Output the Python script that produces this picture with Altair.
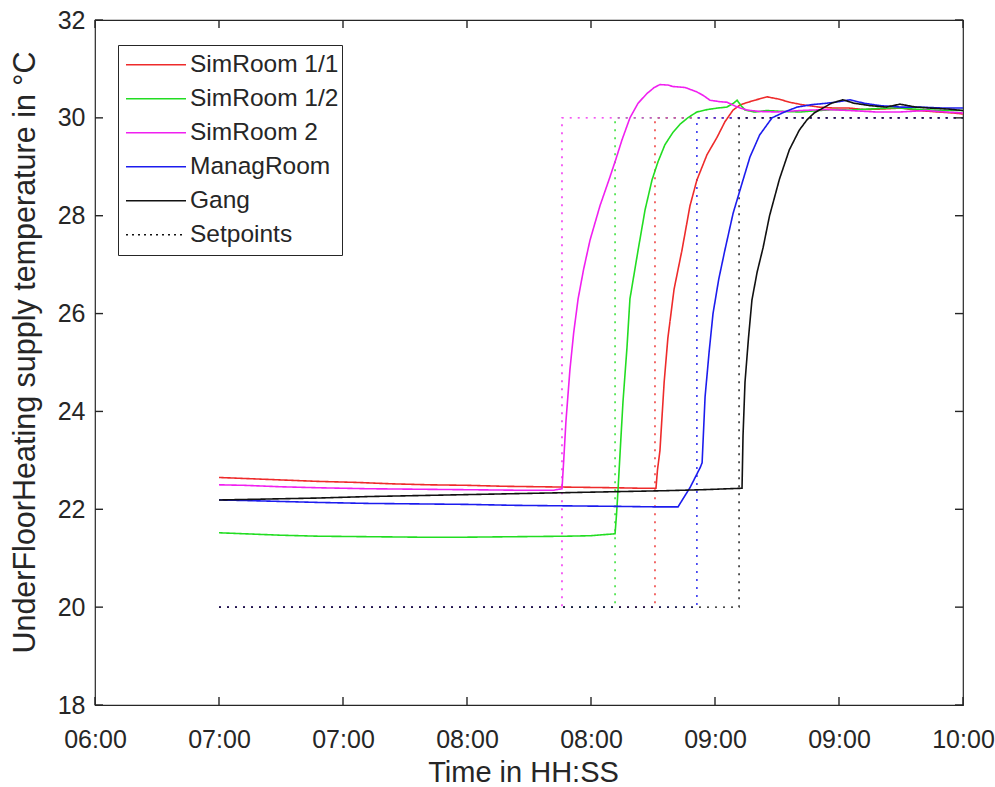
import json
import altair as alt
import pandas as pd

# ---------------- data ----------------
SERIES = ["SimRoom 1/1", "SimRoom 1/2", "SimRoom 2", "ManagRoom", "Gang"]
LEGEND_NAMES = SERIES + ["Setpoints"]
COLORS = ["#ee2b2b", "#22dd22", "#f020f0", "#1c1cee", "#111111", "#111111"]

sr11_t = [6.5, 6.6, 6.75, 6.9, 7.05, 7.2, 7.35, 7.5, 7.65, 7.8, 7.95, 8.1, 8.2, 8.262,
          8.268, 8.278, 8.295, 8.31, 8.335, 8.367, 8.399, 8.427, 8.468, 8.508, 8.54, 8.573,
          8.6, 8.621, 8.66, 8.71, 8.76, 8.8, 8.85, 8.92, 8.98, 9.04, 9.1, 9.17, 9.25, 9.32,
          9.4, 9.46, 9.5]
sr11_v = [22.65, 22.63, 22.6, 22.57, 22.55, 22.52, 22.5, 22.49, 22.47, 22.46, 22.45, 22.44, 22.43, 22.43,
          22.8, 23.2, 24.6, 25.5, 26.5, 27.3, 28.2, 28.73, 29.25, 29.6, 29.92, 30.16,
          30.26, 30.3, 30.36, 30.43, 30.38, 30.32, 30.27, 30.22, 30.2, 30.2, 30.17, 30.18, 30.2, 30.15,
          30.12, 30.1, 30.08]

sr12_t = [6.5, 6.6, 6.75, 6.9, 7.1, 7.3, 7.5, 7.7, 7.9, 8.0, 8.097, 8.103, 8.109, 8.12,
          8.129, 8.145, 8.157, 8.19, 8.218, 8.246, 8.27, 8.298, 8.33, 8.359, 8.39, 8.427,
          8.47, 8.51, 8.548, 8.575, 8.589, 8.605, 8.621, 8.66, 8.71, 8.78, 8.843, 8.92,
          8.98, 9.044, 9.12, 9.2, 9.25, 9.33, 9.42, 9.5]
sr12_v = [21.52, 21.5, 21.47, 21.45, 21.44, 21.43, 21.43, 21.44, 21.45, 21.46, 21.5, 21.9, 22.4, 23.4,
          24.2, 25.3, 26.3, 27.3, 28.12, 28.73, 29.1, 29.45, 29.7, 29.87, 30.0, 30.12,
          30.17, 30.2, 30.22, 30.3, 30.36, 30.25, 30.16, 30.12, 30.15, 30.13, 30.12, 30.15,
          30.17, 30.16, 30.18, 30.2, 30.2, 30.17, 30.15, 30.15]

sr2_t = [6.5, 6.6, 6.75, 6.9, 7.1, 7.3, 7.5, 7.7, 7.85, 7.883, 7.89, 7.899, 7.915, 7.93,
         7.948, 7.97, 7.996, 8.036, 8.077, 8.1, 8.125, 8.157, 8.19, 8.226, 8.255, 8.278,
         8.31, 8.331, 8.38, 8.427, 8.455, 8.48, 8.52, 8.548, 8.59, 8.629, 8.68, 8.75,
         8.843, 8.95, 9.044, 9.15, 9.246, 9.35, 9.43, 9.5]
sr2_v = [22.5, 22.49, 22.46, 22.44, 22.42, 22.41, 22.4, 22.39, 22.39, 22.42, 23.0, 23.8, 24.85, 25.6,
         26.3, 26.9, 27.5, 28.2, 28.8, 29.15, 29.55, 30.0, 30.3, 30.5, 30.62, 30.68,
         30.67, 30.64, 30.62, 30.53, 30.45, 30.36, 30.33, 30.32, 30.22, 30.16, 30.13, 30.12,
         30.15, 30.17, 30.15, 30.12, 30.12, 30.15, 30.12, 30.1]

mr_t = [6.5, 6.6, 6.75, 6.9, 7.1, 7.3, 7.5, 7.7, 7.9, 8.1, 8.25, 8.351, 8.4, 8.44,
        8.448, 8.46, 8.476, 8.492, 8.515, 8.54, 8.573, 8.613, 8.641, 8.68, 8.73, 8.78,
        8.831, 8.89, 8.952, 9.0, 9.044, 9.1, 9.165, 9.25, 9.327, 9.42, 9.5]
mr_v = [22.19, 22.18, 22.16, 22.14, 22.12, 22.11, 22.1, 22.08, 22.07, 22.06, 22.05, 22.05, 22.45, 22.85,
        22.95, 24.3, 25.2, 26.0, 26.7, 27.3, 28.05, 28.73, 29.2, 29.65, 30.0, 30.12,
        30.22, 30.27, 30.3, 30.33, 30.37, 30.3, 30.25, 30.22, 30.22, 30.2, 30.2]

gang_t = [6.5, 6.7, 6.9, 7.1, 7.3, 7.5, 7.7, 7.9, 8.1, 8.3, 8.45, 8.609, 8.613, 8.621,
          8.635, 8.649, 8.67, 8.694, 8.72, 8.76, 8.8, 8.84, 8.871, 8.9, 8.935,
          8.97, 9.016, 9.06, 9.125, 9.19, 9.246, 9.31, 9.367, 9.44, 9.5]
gang_v = [22.19, 22.21, 22.23, 22.26, 22.28, 22.3, 22.32, 22.34, 22.36, 22.38, 22.4, 22.43, 23.5, 24.6,
          25.5, 26.28, 26.85, 27.35, 28.0, 28.75, 29.35, 29.75, 29.96, 30.1, 30.2,
          30.3, 30.37, 30.3, 30.25, 30.22, 30.28, 30.22, 30.2, 30.18, 30.15]

STEP_TIMES = [8.258, 8.097, 7.883, 8.427, 8.597]
SP_LOW = 20
SP_HIGH = 30
T_START = 6.5
T_END = 9.5

X_DOMAIN = [6.0, 9.5]
Y_DOMAIN = [18, 32]
X_TICKS = [6.0, 6.5, 7.0, 7.5, 8.0, 8.5, 9.0, 9.5]
X_LABELS = ["06:00", "07:00", "07:00", "08:00", "08:00", "09:00", "09:00", "10:00"]
Y_TICKS = [18, 20, 22, 24, 26, 28, 30, 32]

# ---------------- layout constants ----------------
W, H = 868, 685
TICK_LEN = 8  # pixels, inward ticks
TX = (X_DOMAIN[1] - X_DOMAIN[0]) * TICK_LEN / W   # tick length in x data units
TY = (Y_DOMAIN[1] - Y_DOMAIN[0]) * TICK_LEN / H   # tick length in y data units

# ---------------- tables ----------------
rows = []
for name, ts, vs in zip(SERIES, [sr11_t, sr12_t, sr2_t, mr_t, gang_t],
                        [sr11_v, sr12_v, sr2_v, mr_v, gang_v]):
    for k, (t, v) in enumerate(zip(ts, vs)):
        rows.append({"series": name, "t": t, "v": v, "k": k})
df = pd.DataFrame(rows)

sp_rows = []
for name, st in zip(SERIES, STEP_TIMES):
    pts = [(T_START, SP_LOW), (st, SP_LOW), (st, SP_HIGH), (T_END, SP_HIGH)]
    for k, (t, v) in enumerate(pts):
        sp_rows.append({"series": name, "t": t, "v": v, "k": k})
sp_df = pd.DataFrame(sp_rows)

tick_rows = []
for t in X_TICKS:
    tick_rows.append({"x1": t, "x2": t, "y1": Y_DOMAIN[0], "y2": Y_DOMAIN[0] + TY})
    tick_rows.append({"x1": t, "x2": t, "y1": Y_DOMAIN[1], "y2": Y_DOMAIN[1] - TY})
for t in Y_TICKS:
    tick_rows.append({"x1": X_DOMAIN[0], "x2": X_DOMAIN[0] + TX, "y1": t, "y2": t})
    tick_rows.append({"x1": X_DOMAIN[1], "x2": X_DOMAIN[1] - TX, "y1": t, "y2": t})
ticks_df = pd.DataFrame(tick_rows)

# ---------------- encodings ----------------
TXT = "#262626"
FONT = "Liberation Sans"
X_TITLE = "Time in HH:SS"
Y_TITLE = "UnderFloorHeating supply temperature in °C"

x_scale = alt.Scale(domain=X_DOMAIN, nice=False, zero=False)
y_scale = alt.Scale(domain=Y_DOMAIN, nice=False, zero=False)

label_expr = f"{json.dumps(X_LABELS)}[indexof({json.dumps(X_TICKS)}, datum.value)]"
x_axis = alt.Axis(values=X_TICKS, labelExpr=label_expr, title=X_TITLE,
                  ticks=False, tickSize=0, domain=False, grid=False, labelFlush=False,
                  labelOverlap=False, labelBaseline="alphabetic", labelPadding=42,
                  labelFontSize=25, titleFontSize=29, titleX=428, titleY=76,
                  titleBaseline="alphabetic")
y_axis = alt.Axis(values=Y_TICKS, title=Y_TITLE,
                  ticks=False, tickSize=0, domain=False, grid=False, labelPadding=10,
                  labelFontSize=25, titleFontSize=30.5, titleX=-61, titleY=332,
                  titleBaseline="alphabetic", titleAngle=270)


def X(field):
    return alt.X(f"{field}:Q", scale=x_scale, axis=x_axis, title=X_TITLE)


def Y(field):
    return alt.Y(f"{field}:Q", scale=y_scale, axis=y_axis, title=Y_TITLE)


legend = alt.Legend(title=None, orient="none", legendX=23, legendY=25,
                    symbolType="stroke", symbolSize=3600, symbolStrokeWidth=1.5,
                    clipHeight=33.5, labelFontSize=24.5, labelColor=TXT, labelFont=FONT,
                    labelOffset=3, padding=3, strokeColor=TXT, fillColor="white",
                    symbolOffset=4, labelLimit=400, rowPadding=0)

color_scale = alt.Scale(domain=LEGEND_NAMES, range=COLORS)
dash_scale = alt.Scale(domain=LEGEND_NAMES, range=[[1, 0]] * 5 + [[2, 4]])

setpoints = alt.Chart(sp_df).mark_line(strokeWidth=1.4, strokeDash=[2, 6]).encode(
    x=X("t"), y=Y("v"),
    color=alt.Color("series:N", scale=color_scale, legend=legend),
    order=alt.Order("k:Q"),
)

lines = alt.Chart(df).mark_line(strokeWidth=1.6).encode(
    x=X("t"), y=Y("v"),
    color=alt.Color("series:N", scale=color_scale, legend=legend),
    strokeDash=alt.StrokeDash("series:N", scale=dash_scale, legend=legend),
    order=alt.Order("k:Q"),
)

ticks = alt.Chart(ticks_df).mark_rule(strokeWidth=1.4, color=TXT).encode(
    x=X("x1"), x2=alt.X2("x2:Q"), y=Y("y1"), y2=alt.Y2("y2:Q"))

chart = alt.layer(setpoints, lines, ticks).properties(
    width=W, height=H,
    autosize=alt.AutoSizeParams(type="none"),
    padding={"left": 95, "top": 20, "right": 32, "bottom": 82},
    background="white",
).configure(font=FONT).configure_view(
    stroke=TXT, strokeWidth=1.2
).configure_axis(
    labelColor=TXT, titleColor=TXT, labelFont=FONT, titleFont=FONT, titleFontWeight="normal"
)

chart.save("out.html", embed_options={"renderer": "svg", "actions": False})
